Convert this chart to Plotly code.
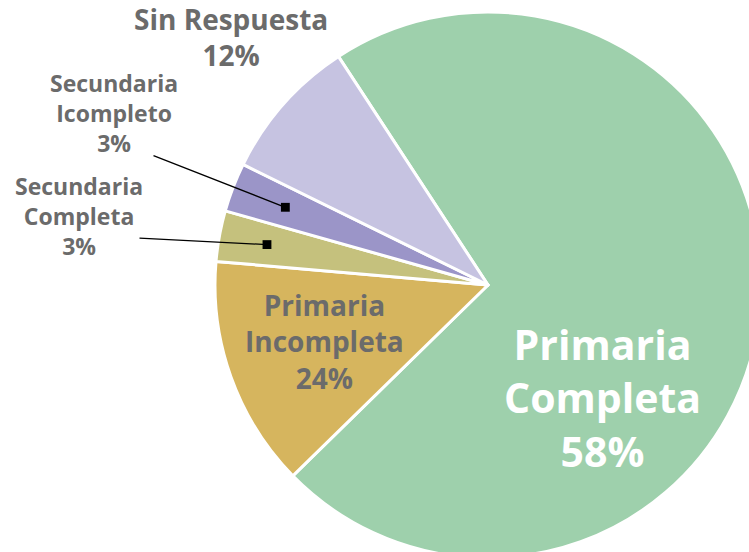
import math
import plotly.graph_objects as go

# datos (tamaño de cada porción medido en el dibujo; las etiquetas muestran el % original)
categorias = ["Primaria Completa", "Primaria Incompleta", "Secundaria Completa",
              "Secundaria Icompleto", "Sin Respuesta"]
porcion = [71.9, 13.7, 3.0, 2.9, 8.5]
etiqueta_pct = ["58%", "24%", "3%", "3%", "12%"]
colores = ["#9ED0AC", "#D6B55E", "#C5C17D", "#9B95C8", "#C6C3E1"]

W, H = 765, 560            # figura algo mayor que la ventana, el pastel queda cortado
CX, CY, R = 488, 285, 273  # centro y radio del pastel en px
ROT = -33.2
GRIS = "#6B6B6B"
FUENTE = "Open Sans"


def px(x, y):
    return x / W, 1 - y / H


fig = go.Figure(go.Pie(
    labels=categorias,
    values=porcion,
    sort=False,
    direction="clockwise",
    rotation=ROT,
    marker=dict(colors=colores, line=dict(color="white", width=3)),
    textinfo="none",
    hoverinfo="label",
    showlegend=False,
    domain=dict(x=[(CX - R) / W, (CX + R) / W], y=[1 - (CY + R) / H, 1 - (CY - R) / H]),
))

anots = []


def texto(lineas, cx, cy, size, color):
    x0, y0 = px(cx, cy)
    anots.append(dict(text="<b>" + "<br>".join(lineas) + "</b>", x=x0, y=y0,
                      xref="paper", yref="paper",
                      showarrow=False, xanchor="center", yanchor="middle",
                      font=dict(family=FUENTE, size=size, color=color)))


texto(["Primaria", "Completa", etiqueta_pct[0]], 602, 397, 41, "white")
texto(["Primaria", "Incompleta", etiqueta_pct[1]], 324, 341.5, 28, GRIS)
texto(["Secundaria", "Completa", etiqueta_pct[2]], 79, 215.5, 23, GRIS)
texto(["Secundaria", "Icompleto", etiqueta_pct[3]], 114, 112.5, 23, GRIS)
texto(["Sin Respuesta", etiqueta_pct[4]], 231, 37.5, 28, GRIS)

# lineas guía hacia las porciones pequeñas (punto en el ángulo medio de la porción)
total = sum(porcion)


def punto_medio(i, k):
    antes = sum(porcion[:i])
    ang = math.radians(ROT + 360 * (antes + porcion[i] / 2) / total)
    return CX + k * R * math.sin(ang), CY - k * R * math.cos(ang)


for i, k, cola in [(2, 0.823, (138, 238)), (3, 0.795, (152, 155))]:
    x1, y1 = punto_medio(i, k)
    xa, ya = px(x1, y1)
    anots.append(dict(text="", x=xa, y=ya, xref="paper", yref="paper",
                      ax=cola[0] - x1, ay=cola[1] - y1, showarrow=True,
                      arrowhead=7, arrowsize=1.7, arrowwidth=1.3, arrowcolor="black"))

fig.update_layout(
    width=W, height=H,
    margin=dict(l=0, r=0, t=0, b=0),
    paper_bgcolor="white",
    annotations=anots,
)

fig.write_html("out.html", config={"displayModeBar": False},
               post_script="document.body.style.margin='0';"
               "document.body.style.overflow='hidden';"
               "document.documentElement.style.overflow='hidden';")
